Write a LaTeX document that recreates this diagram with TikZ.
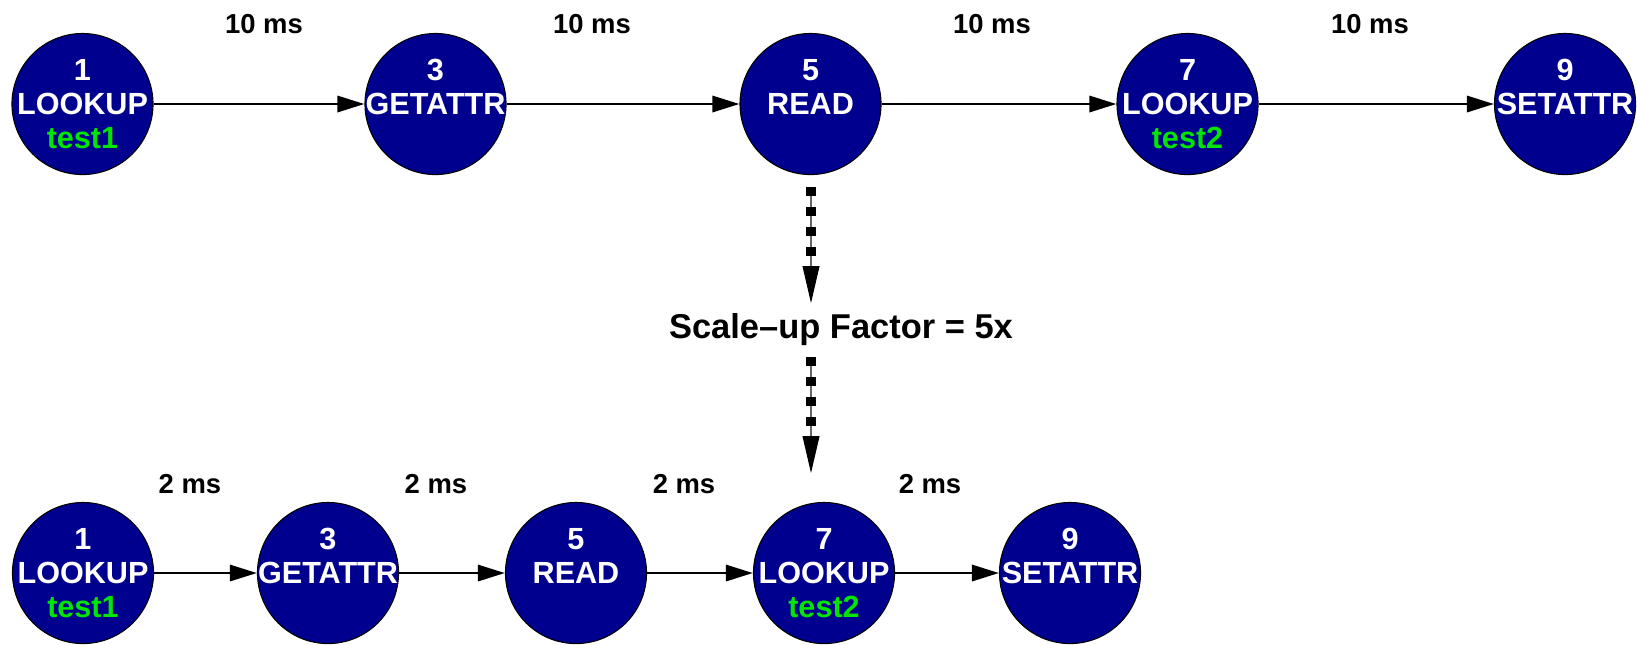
\documentclass[tikz,border=0pt]{standalone}
\usepackage{fontspec}
\setmainfont{Liberation Sans}
\usetikzlibrary{arrows.meta}

\definecolor{opblue}{RGB}{0,0,143}
\definecolor{opgreen}{RGB}{0,230,0}

\begin{document}
\begin{tikzpicture}[x=0.01cm, y=-0.01cm,
    op/.style={circle, draw=black, line width=0.3pt, fill=opblue, text=white,
        minimum size=1.41cm, inner sep=-4pt, align=center,
        font=\fontsize{8.7}{9.7}\selectfont\bfseries},
    flow/.style={line width=0.8pt, -{Triangle[length=7.7pt,width=4.6pt]}},
    lat/.style={font=\fontsize{7.8}{9}\selectfont\bfseries},
    scaleline/.style={line width=0.3pt, draw=black!60, -{Triangle[length=10.5pt,width=4.8pt,fill=black,color=black]}},
    scaledots/.style={line width=2.9pt, dash pattern=on 2.5pt off 3.2pt, shorten >=12.8pt}]
    \useasboundingbox (0,0) rectangle (1637,644);

    % original trace, 10 ms apart
    \node[op] (t1) at (82.5,104) {1\\LOOKUP\\\textcolor{opgreen}{test1}};
    \node[op] (t3) at (435.5,104) {3\\GETATTR\\\mbox{}};
    \node[op] (t5) at (810.5,104) {5\\READ\\\mbox{}};
    \node[op] (t7) at (1187.5,104) {7\\LOOKUP\\\textcolor{opgreen}{test2}};
    \node[op] (t9) at (1565,104) {9\\SETATTR\\\mbox{}};

    \draw[flow] (t1) -- (t3);
    \draw[flow] (t3) -- (t5);
    \draw[flow] (t5) -- (t7);
    \draw[flow] (t7) -- (t9);

    \node[lat] (lt13) at (264,24) {10 ms};
    \node[lat] (lt35) at (592,24) {10 ms};
    \node[lat] (lt57) at (992,24) {10 ms};
    \node[lat] (lt79) at (1370,24) {10 ms};

    % scale-up
    \node[font=\fontsize{9.8}{11}\selectfont\bfseries] (scale) at (841,330) {Scale–up Factor = 5x};
    \coordinate (up0) at (811,187);
    \coordinate (up1) at (811,303);
    \coordinate (dn0) at (811,357);
    \coordinate (dn1) at (811,473);
    \draw[scaleline] (up0) -- (up1);
    \draw[scaledots] (up0) -- (up1);
    \draw[scaleline] (dn0) -- (dn1);
    \draw[scaledots] (dn0) -- (dn1);

    % replayed trace, 2 ms apart
    \node[op] (b1) at (83,573) {1\\LOOKUP\\\textcolor{opgreen}{test1}};
    \node[op] (b3) at (328,573) {3\\GETATTR\\\mbox{}};
    \node[op] (b5) at (576,573) {5\\READ\\\mbox{}};
    \node[op] (b7) at (824,573) {7\\LOOKUP\\\textcolor{opgreen}{test2}};
    \node[op] (b9) at (1070,573) {9\\SETATTR\\\mbox{}};

    \draw[flow] (b1) -- (b3);
    \draw[flow] (b3) -- (b5);
    \draw[flow] (b5) -- (b7);
    \draw[flow] (b7) -- (b9);

    \node[lat] (lb13) at (190,484) {2 ms};
    \node[lat] (lb35) at (436,484) {2 ms};
    \node[lat] (lb57) at (684,484) {2 ms};
    \node[lat] (lb79) at (930,484) {2 ms};
\end{tikzpicture}
\end{document}
